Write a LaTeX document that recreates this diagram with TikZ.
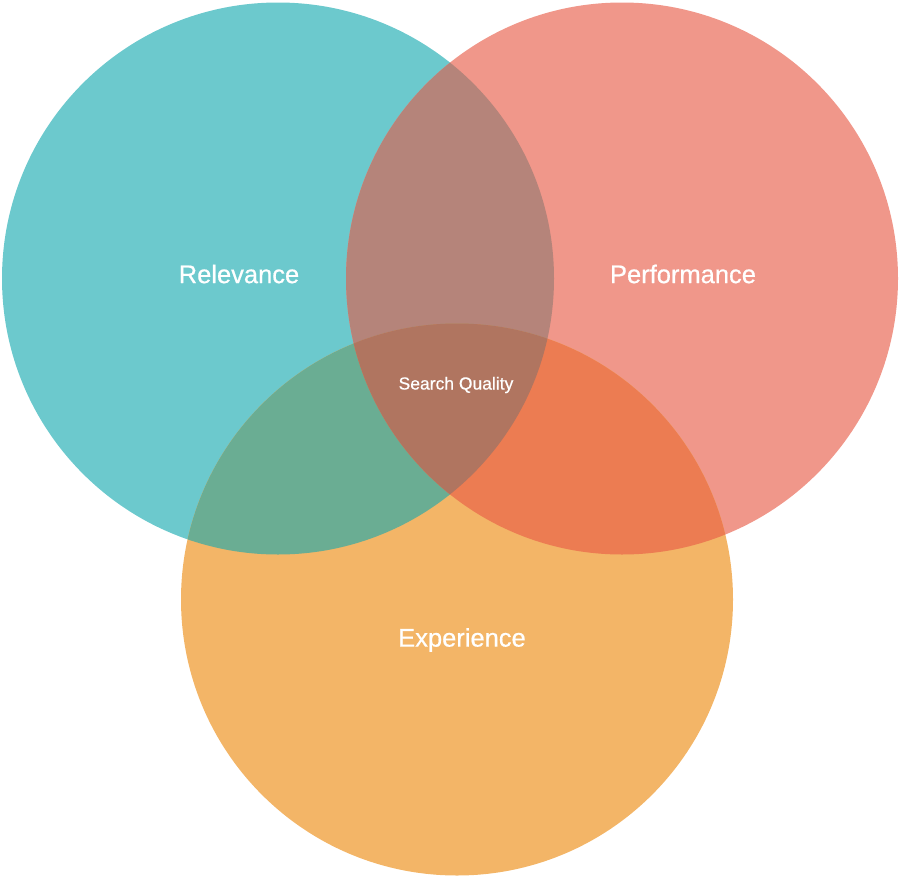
\documentclass[tikz,border=0pt]{standalone}
\usepackage{fontspec}
\setmainfont{Liberation Sans}
\newfontfamily\lblfont[FakeBold=0.6]{Liberation Sans}
\definecolor{cteal}{HTML}{6CC9CD}
\definecolor{csalmon}{HTML}{F0978A}
\definecolor{corange}{HTML}{F3B567}
\definecolor{cts}{HTML}{B5847A}
\definecolor{cto}{HTML}{6AAD93}
\definecolor{cso}{HTML}{EC7C52}
\definecolor{ctso}{HTML}{B07560}
\begin{document}
\begin{tikzpicture}[x=1pt,y=-1pt,
  lbl/.style={text=white,font=\lblfont\fontsize{25.5}{25.5}\selectfont},
  sublbl/.style={text=white,font=\lblfont\fontsize{17.5}{17.5}\selectfont}]
\useasboundingbox (0,0) rectangle (900,878);
\def\rr{276}
\coordinate (ct) at (278,278.5);
\coordinate (cs) at (622,278.5);
\coordinate (co) at (457,599.5);
% base circles
\fill[cteal] (ct) circle (\rr);
\fill[csalmon] (cs) circle (\rr);
\fill[corange] (co) circle (\rr);
% pairwise overlaps
\begin{scope}
  \clip (ct) circle (\rr);
  \fill[cts] (cs) circle (\rr);
  \fill[cto] (co) circle (\rr);
\end{scope}
\begin{scope}
  \clip (cs) circle (\rr);
  \fill[cso] (co) circle (\rr);
\end{scope}
% triple overlap
\begin{scope}
  \clip (ct) circle (\rr);
  \clip (cs) circle (\rr);
  \fill[ctso] (co) circle (\rr);
\end{scope}
\node[lbl] (rel) at (239,274) {Relevance};
\node[lbl] (perf) at (683,274) {Performance};
\node[lbl] (exp) at (462,640) {Experience};
\node[sublbl] (sq) at (456,385) {Search Quality};
\end{tikzpicture}
\end{document}
